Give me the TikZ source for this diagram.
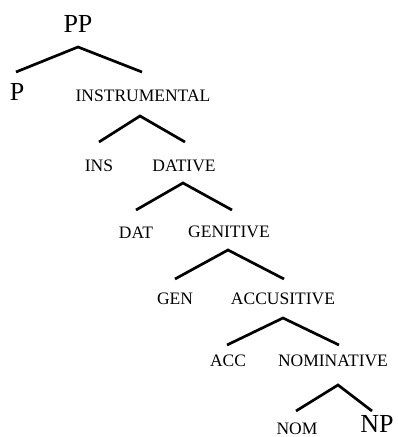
\documentclass[tikz,border=0pt]{standalone}
\usepackage{fontspec}
\setmainfont{Liberation Serif}
\begin{document}
\begin{tikzpicture}[x=1pt,y=-1pt,
  lbl/.style={inner sep=0pt,font=\fontsize{17.5}{17.5}\selectfont},
  big/.style={inner sep=0pt,font=\fontsize{26}{26}\selectfont},
  branch/.style={line width=2.7pt,line join=miter}]
\useasboundingbox (0,0) rectangle (397,437);
% labels
\node[big] (PP) at (78,24) {PP};
\node[big] (P) at (17,92) {P};
\node[lbl] (INSTR) at (143,96) {INSTRUMENTAL};
\node[lbl] (INS) at (99,166) {INS};
\node[lbl] (DATIVE) at (184,166) {DATIVE};
\node[lbl] (DAT) at (136,233) {DAT};
\node[lbl] (GENITIVE) at (229,232) {GENITIVE};
\node[lbl] (GEN) at (175,299) {GEN};
\node[lbl] (ACCUS) at (283,299) {ACCUSITIVE};
\node[lbl] (ACC) at (228,361) {ACC};
\node[lbl] (NOMIN) at (333,361) {NOMINATIVE};
\node[lbl] (NOM) at (297,428.5) {NOM};
\node[big] (NP) at (377,424) {NP};
% branch points
\coordinate (ppA) at (78,47);  \coordinate (ppL) at (16,72);  \coordinate (ppR) at (142,72);
\coordinate (inA) at (140,116); \coordinate (inL) at (99,142); \coordinate (inR) at (185,142);
\coordinate (daA) at (183,183); \coordinate (daL) at (136,210); \coordinate (daR) at (232,210);
\coordinate (geA) at (228,250); \coordinate (geL) at (175,279); \coordinate (geR) at (284,279);
\coordinate (acA) at (283,318); \coordinate (acL) at (227,345); \coordinate (acR) at (339,345);
\coordinate (noA) at (338,385); \coordinate (noL) at (296,411); \coordinate (noR) at (372,411);
\draw[branch] (ppL) -- (ppA) -- (ppR);
\draw[branch] (inL) -- (inA) -- (inR);
\draw[branch] (daL) -- (daA) -- (daR);
\draw[branch] (geL) -- (geA) -- (geR);
\draw[branch] (acL) -- (acA) -- (acR);
\draw[branch] (noL) -- (noA) -- (noR);
\end{tikzpicture}
\end{document}
